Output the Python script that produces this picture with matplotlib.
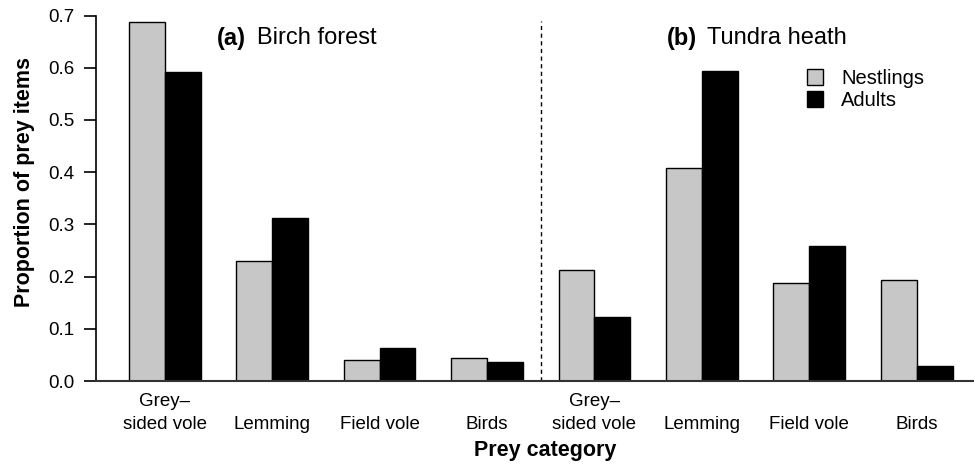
import matplotlib
matplotlib.use("Agg")
import matplotlib.pyplot as plt
import numpy as np

# ==========================================
# DATA
# ==========================================

categories = ["Grey\u2013\nsided vole", "\nLemming", "\nField vole", "\nBirds"]
birch_nestlings = [0.687, 0.229, 0.040, 0.044]
birch_adults    = [0.591, 0.313, 0.064, 0.036]
tundra_nestlings = [0.212, 0.408, 0.188, 0.194]
tundra_adults    = [0.122, 0.594, 0.258, 0.028]

nestlings = birch_nestlings + tundra_nestlings
adults    = birch_adults + tundra_adults
labels    = categories + categories

GREY = "#c6c7c6"
W, H = 974, 465

plt.rcParams["font.family"] = ["Liberation Sans", "DejaVu Sans"]

# ==========================================
# PLOT
# ==========================================

fig = plt.figure(figsize=(W / 100, H / 100), dpi=100)
ax = fig.add_axes([96 / W, 1 - 381 / H, 1 - 96 / W, (381 - 15.5) / H])

starts = 1 + 3 * np.arange(len(nestlings))
ax.bar(starts, nestlings, width=1, align="edge", color=GREY,
       edgecolor="black", linewidth=1.0, label="Nestlings", zorder=2)
ax.bar(starts + 1, adults, width=1, align="edge", color="black",
       edgecolor="black", linewidth=1.0, label="Adults", zorder=2)

ax.set_xlim(0.08, 24.6)
ax.set_ylim(0, 0.7)

ax.axhline(0, color="#333333", linewidth=1.5, zorder=3, clip_on=False)
ax.axvline(12.5, ymax=0.985, color="black", linewidth=1.0,
           linestyle=(0, (3, 2.5)), zorder=1)

for s in ["top", "right", "bottom"]:
    ax.spines[s].set_visible(False)
ax.spines["left"].set_linewidth(1.2)
ax.spines["left"].set_bounds(0, 0.7)

ax.set_yticks(np.arange(0, 0.71, 0.1))
ax.set_yticklabels([f"{v:.1f}" for v in np.arange(0, 0.71, 0.1)])
ax.tick_params(axis="y", length=8.5, width=1.2, pad=7, labelsize=13.5)

ax.set_xticks(starts + 1)
ax.set_xticklabels(labels, linespacing=1.45)
ax.tick_params(axis="x", length=0, pad=8.5, labelsize=13.5)

fig.text(25 / W, 1 - 182 / H, "Proportion of prey items", rotation=90,
         ha="center", va="center", fontsize=15.5, fontweight="bold")
fig.text(545 / W, 1 - 450 / H, "Prey category",
         ha="center", va="center", fontsize=15.5, fontweight="bold")

fig.text(217 / W, 1 - 38 / H, "(a)", ha="left", va="center",
         fontsize=17, fontweight="bold")
fig.text(257 / W, 1 - 38 / H, "Birch forest", ha="left", va="center", fontsize=17)
fig.text(667 / W, 1 - 38 / H, "(b)", ha="left", va="center",
         fontsize=17, fontweight="bold")
fig.text(707 / W, 1 - 38 / H, "Tundra heath", ha="left", va="center", fontsize=17)

ax.legend(loc="upper left", bbox_to_anchor=(807 / W, 1 - 69 / H),
          bbox_transform=fig.transFigure, frameon=False, fontsize=14.5,
          handlelength=0.8, handleheight=0.8, handletextpad=0.9,
          labelspacing=0.15, borderpad=0, borderaxespad=0)

fig.savefig("out.png", dpi=100)
